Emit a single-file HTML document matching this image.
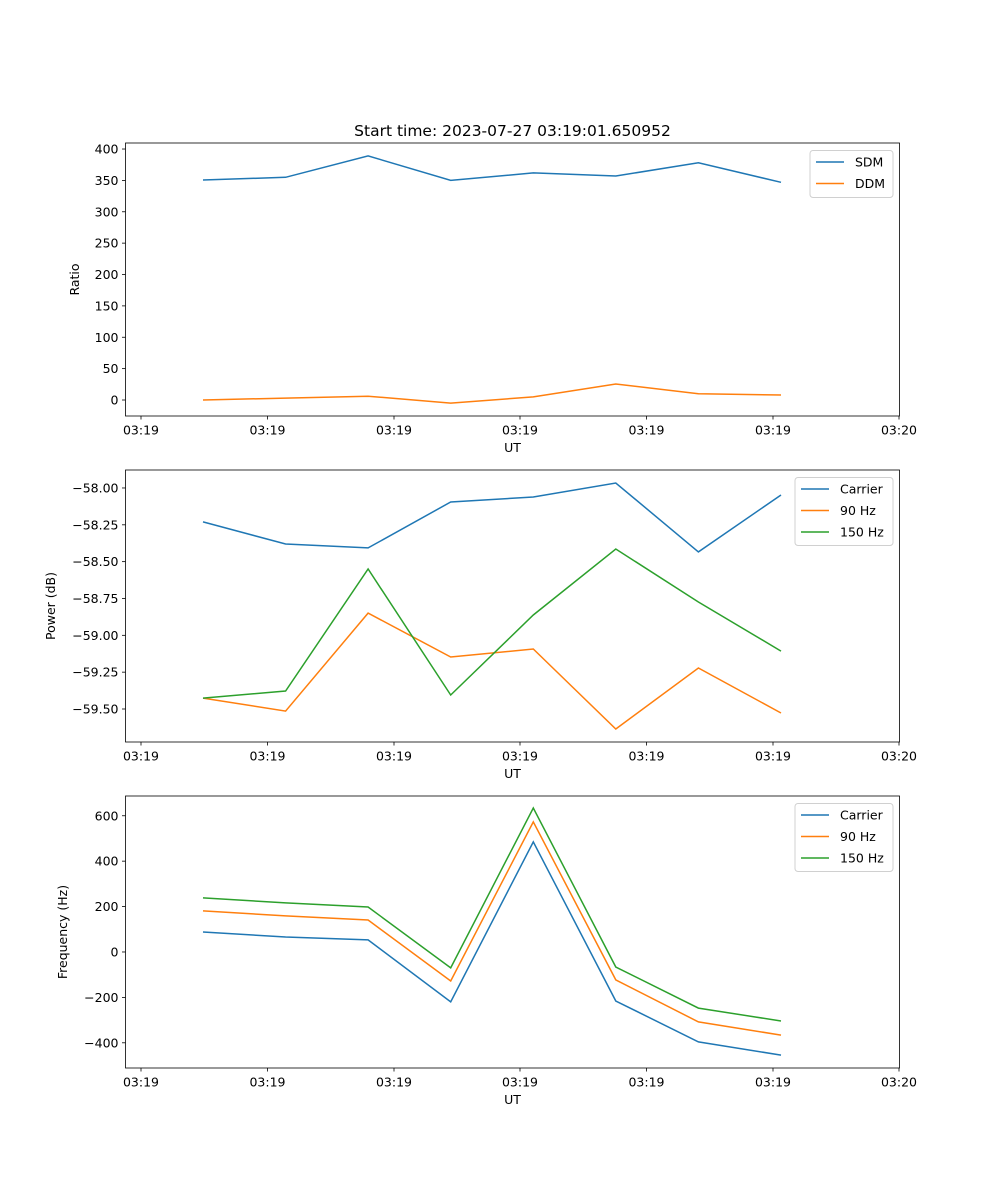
<!DOCTYPE html>
<html><head><meta charset="utf-8"><style>
html,body{margin:0;padding:0;background:#fff;}
svg{display:block;font-family:"DejaVu Sans","Liberation Sans",sans-serif;}
</style></head><body>
<svg id="fig" width="1000" height="1200" xmlns="http://www.w3.org/2000/svg">
<text x="512.5" y="136" font-size="15.5" text-anchor="middle">Start time: 2023-07-27 03:19:01.650952</text>
</svg>
<script>
const xIndex = [0,1,2,3,4,5,6,7];
const xTickLabels = ["03:19","03:19","03:19","03:19","03:19","03:19","03:20"];
const sdm = [350.6,355,389,350,362,357,378,347];
const ddm = [0,3,6,-5,5,25.5,10,8];
const powCarrier = [-58.23,-58.38,-58.407,-58.095,-58.061,-57.966,-58.434,-58.048];
const pow90 = [-59.426,-59.514,-58.849,-59.147,-59.093,-59.636,-59.222,-59.527];
const pow150 = [-59.426,-59.378,-58.55,-59.405,-58.862,-58.414,-58.774,-59.107];
const freqCarrier = [88,66,53,-220,485,-216,-396,-454];
const freq90 = [181,159,141,-128,573,-123,-308,-366];
const freq150 = [238,216,198,-70,634,-66,-247,-304];
const ticks1 = [0,50,100,150,200,250,300,350,400];
const ticks2 = [-59.5,-59.25,-59.0,-58.75,-58.5,-58.25,-58.0];
const ticks3 = [-400,-200,0,200,400,600];

const NS="http://www.w3.org/2000/svg";
const svg=document.getElementById('fig');
function mk(tag,attrs,parent){const e=document.createElementNS(NS,tag);for(const k in attrs)e.setAttribute(k,attrs[k]);(parent||svg).appendChild(e);return e;}
const L=125.5,R=899.5;
function xScale(i){return 203+i*82.57;}
const xTickPx=[141,267.5,394,520,646.5,773,899];
const FS=12.5;
function panel(name,top,bot,ymin,ymax,ticks,fmt,series,ylabel,legendW){
  const g=mk('g',{});
  
  
  const y=v=>bot-(v-ymin)/(ymax-ymin)*(bot-top);
  ticks.forEach(t=>{
    const py=y(t);
    mk('line',{x1:L-3.5,x2:L,y1:py,y2:py,stroke:'#000','stroke-width':0.8},g);
    const tx=mk('text',{x:L-7,y:py+4.5,'font-size':FS,'text-anchor':'end'},g);
    tx.textContent=fmt(t);
    
    
  });
  xTickPx.forEach((px,k)=>{
    mk('line',{x1:px,x2:px,y1:bot,y2:bot+3.5,stroke:'#000','stroke-width':0.8},g);
    const tx=mk('text',{x:px,y:bot+18.5,'font-size':FS,'text-anchor':'middle'},g);
    tx.textContent=xTickLabels[k];
    
    
  });
  const xl=mk('text',{x:512.5,y:bot+36,'font-size':FS,'text-anchor':'middle'},g);
  xl.textContent='UT';
  
  
  const yx=ylabel[1];
  const yl=mk('text',{x:yx,y:(top+bot)/2,'font-size':FS,'text-anchor':'middle',transform:`rotate(-90 ${yx} ${(top+bot)/2})`},g);
  yl.textContent=ylabel[0];
  
  
  series.forEach(s=>{
    const pts=s.data.map((v,i)=>xScale(xIndex[i]).toFixed(1)+','+y(v).toFixed(1)).join(' ');
    const pl=mk('polyline',{points:pts,fill:'none',stroke:s.color,'stroke-width':1.5},g);
    
    
  });
  const fr=mk('rect',{x:L,y:top,width:R-L,height:bot-top,fill:'none',stroke:'#000','stroke-width':0.8},g);
  
  
  const lx=893-legendW, ly=top+7.5, lh=series.length*21+5;
  const lg=mk('g',{},g);
  
  
  mk('rect',{x:lx,y:ly,width:legendW,height:lh,rx:3,fill:'#fff',stroke:'#ccc','stroke-width':1,opacity:0.9},lg);
  series.forEach((s,i)=>{
    const cy=ly+11.5+i*21.5;
    mk('line',{x1:lx+6,x2:lx+34,y1:cy,y2:cy,stroke:s.color,'stroke-width':1.5},lg);
    const t=mk('text',{x:lx+45,y:cy+4.5,'font-size':FS},lg);
    t.textContent=s.label;
    
    
  });
}
const B='#1f77b4',O='#ff7f0e',G='#2ca02c';
panel('ratio-panel',143,416,-25.5,409.6,ticks1,v=>String(v),[{data:sdm,color:B,label:'SDM'},{data:ddm,color:O,label:'DDM'}],['Ratio',79],83);
panel('power-panel',470,742,-59.724,-57.878,ticks2,v=>'\u2212'+Math.abs(v).toFixed(2),[{data:powCarrier,color:B,label:'Carrier'},{data:pow90,color:O,label:'90 Hz'},{data:pow150,color:G,label:'150 Hz'}],['Power (dB)',55],98);
panel('frequency-panel',796,1068,-511,687,ticks3,v=>(v<0?'\u2212':'')+Math.abs(v),[{data:freqCarrier,color:B,label:'Carrier'},{data:freq90,color:O,label:'90 Hz'},{data:freq150,color:G,label:'150 Hz'}],['Frequency (Hz)',67],98);
</script>
</body></html>
